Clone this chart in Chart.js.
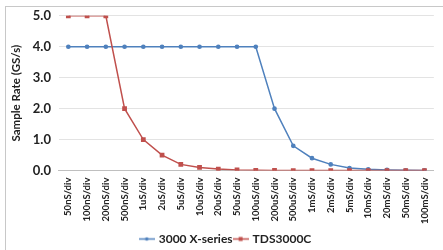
<!DOCTYPE html>
<html>
<head>
<meta charset="utf-8">
<script src="https://cdn.jsdelivr.net/npm/chart.js@4.4.0/dist/chart.umd.min.js"></script>
<style>
  html, body { margin: 0; padding: 0; background: #fff; }
  #wrap { position: absolute; left: 5px; top: 6px; width: 445px; height: 250px; border: 1px solid #c8c8c8; box-sizing: border-box; }
  #box { position: absolute; left: 0; top: 0; width: 443px; height: 250px; }
</style>
</head>
<body>
<div id="wrap"></div>
<div id="box"><canvas id="chart"></canvas></div>
<script>
const timebases = ['50nS/div', '100nS/div', '200nS/div', '500nS/div', '1uS/div', '2uS/div', '5uS/div',
  '10uS/div', '20uS/div', '50uS/div', '100uS/div', '200uS/div', '500uS/div', '1mS/div', '2mS/div',
  '5mS/div', '10mS/div', '20mS/div', '50mS/div', '100mS/div'];
const xSeries = [4, 4, 4, 4, 4, 4, 4, 4, 4, 4, 4, 2.0, 0.8, 0.4, 0.2, 0.08, 0.04, 0.02, 0.01, 0.005];
const tds3000c = [5, 5, 5, 2.0, 1.0, 0.5, 0.2, 0.1, 0.05, 0.02, 0.01, 0.005, 0.002, 0.001, 0.001, 0, 0, 0, 0, 0];
const yTicks = [0, 0.5, 1.0, 1.5, 2.0, 2.5, 3.0, 3.5, 4.0, 4.5, 5.0];

const BLUE = '#4f81bd';
const RED = '#c0504d';
const FONT = 'Lato, "Open Sans", sans-serif';

// little line+marker swatch for the legend
function swatch(color, square) {
  const c = document.createElement('canvas');
  c.width = 16; c.height = 7;
  const g = c.getContext('2d');
  g.strokeStyle = color; g.lineWidth = 1.5;
  g.beginPath(); g.moveTo(0, 3.5); g.lineTo(16, 3.5); g.stroke();
  g.fillStyle = color;
  if (square) g.fillRect(6, 1.5, 4, 4);
  else { g.beginPath(); g.arc(8, 3.5, 1.8, 0, Math.PI * 2); g.fill(); }
  return c;
}

new Chart(document.getElementById('chart'), {
  type: 'line',
  data: {
    labels: timebases,
    datasets: [
      {
        label: '3000 X-series',
        data: xSeries,
        borderColor: BLUE,
        backgroundColor: BLUE,
        borderWidth: 1.5,
        pointStyle: 'circle',
        pointRadius: 1.6,
        tension: 0,
        order: 2
      },
      {
        label: 'TDS3000C',
        data: tds3000c,
        borderColor: RED,
        backgroundColor: RED,
        borderWidth: 1.5,
        pointStyle: 'rect',
        pointRadius: 2.3,
        tension: 0,
        order: 1
      }
    ]
  },
  options: {
    responsive: true,
    maintainAspectRatio: false,
    animation: false,
    layout: { padding: { left: 9, right: 0, top: 12, bottom: -5 } },
    plugins: {
      tooltip: { enabled: false },
      legend: {
        position: 'bottom',
        labels: {
          usePointStyle: true,
          boxHeight: 7,
          padding: 2,
          color: '#222',
          font: { family: FONT, size: 12, weight: 'bold' },
          sort: (a, b) => a.datasetIndex - b.datasetIndex,
          generateLabels: chart => chart.data.datasets.map((ds, i) => ({
            text: ds.label,
            datasetIndex: i,
            fontColor: '#222',
            pointStyle: swatch(ds.borderColor, ds.pointStyle === 'rect'),
            strokeStyle: ds.borderColor,
            fillStyle: ds.borderColor,
            lineWidth: 0
          }))
        }
      }
    },
    scales: {
      x: {
        offset: true,
        grid: { display: false, drawTicks: false },
        border: { color: '#bfbfbf' },
        ticks: {
          minRotation: 90,
          maxRotation: 90,
          autoSkip: false,
          padding: 7,
          color: '#222',
          font: { family: FONT, size: 9.5, weight: 'bold' }
        }
      },
      y: {
        min: 0,
        max: 5,
        afterBuildTicks: axis => { axis.ticks = yTicks.map(v => ({ value: v })); },
        grid: { color: '#e3e3e3', drawTicks: false },
        border: { display: false },
        title: {
          display: true,
          text: 'Sample Rate (GS/s)',
          color: '#222',
          padding: { top: 0, bottom: 2 },
          font: { family: FONT, size: 11.5, weight: 'bold' }
        },
        ticks: {
          padding: 8,
          color: '#222',
          font: { family: FONT, size: 13, weight: 'bold' },
          callback: v => Number(v).toFixed(1)
        }
      }
    }
  }
});
</script>
</body>
</html>
